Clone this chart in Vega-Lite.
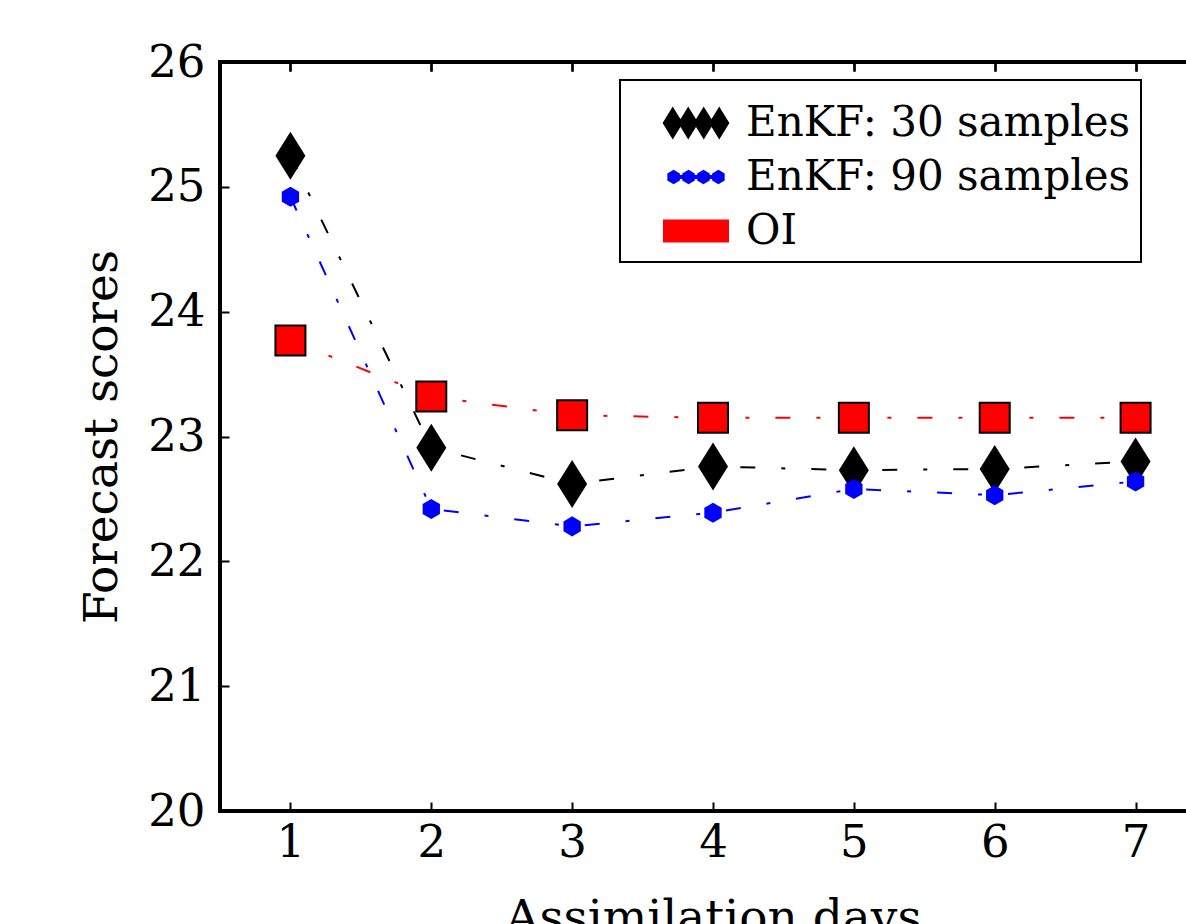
{
  "$schema": "https://vega.github.io/schema/vega-lite/v6.json",
  "width": 986,
  "height": 749,
  "autosize": {"type": "none"},
  "padding": {"left": 220, "top": 62, "right": 0, "bottom": 113},
  "background": "white",
  "data": {
    "values": [
      {"day": 1, "score": 25.25, "series": "EnKF: 30 samples"},
      {"day": 2, "score": 22.91, "series": "EnKF: 30 samples"},
      {"day": 3, "score": 22.62, "series": "EnKF: 30 samples"},
      {"day": 4, "score": 22.76, "series": "EnKF: 30 samples"},
      {"day": 5, "score": 22.73, "series": "EnKF: 30 samples"},
      {"day": 6, "score": 22.74, "series": "EnKF: 30 samples"},
      {"day": 7, "score": 22.80, "series": "EnKF: 30 samples"},
      {"day": 1, "score": 24.92, "series": "EnKF: 90 samples"},
      {"day": 2, "score": 22.42, "series": "EnKF: 90 samples"},
      {"day": 3, "score": 22.28, "series": "EnKF: 90 samples"},
      {"day": 4, "score": 22.39, "series": "EnKF: 90 samples"},
      {"day": 5, "score": 22.58, "series": "EnKF: 90 samples"},
      {"day": 6, "score": 22.53, "series": "EnKF: 90 samples"},
      {"day": 7, "score": 22.64, "series": "EnKF: 90 samples"},
      {"day": 1, "score": 23.77, "series": "OI"},
      {"day": 2, "score": 23.32, "series": "OI"},
      {"day": 3, "score": 23.17, "series": "OI"},
      {"day": 4, "score": 23.15, "series": "OI"},
      {"day": 5, "score": 23.15, "series": "OI"},
      {"day": 6, "score": 23.15, "series": "OI"},
      {"day": 7, "score": 23.15, "series": "OI"}
    ]
  },
  "resolve": {"axis": {"x": "independent"}},
  "layer": [
    {
      "mark": {"type": "line", "strokeWidth": 2, "strokeDash": [15, 26, 4, 26]},
      "encoding": {
        "x": {
          "field": "day", "type": "quantitative",
          "scale": {"domain": [0.5, 7.5], "nice": false, "zero": false},
          "axis": {"orient": "bottom", "values": [1, 2, 3, 4, 5, 6, 7], "format": "d", "title": "Assimilation days", "labelPadding": 18, "titlePadding": 30}
        },
        "y": {
          "field": "score", "type": "quantitative",
          "scale": {"domain": [20, 26], "nice": false, "zero": false},
          "axis": {"values": [20, 21, 22, 23, 24, 25, 26], "format": "d", "title": "Forecast scores", "labelPadding": 24, "titlePadding": 21}
        },
        "color": {
          "field": "series", "type": "nominal",
          "scale": {"domain": ["EnKF: 30 samples", "EnKF: 90 samples", "OI"], "range": ["#000000", "#0000ff", "#ff0000"]},
          "legend": {
            "title": null,
            "orient": "none",
            "legendX": 400,
            "legendY": 18,
            "padding": 10,
            "symbolOffset": 33,
            "symbolSize": 4096,
            "labelOffset": 17,
            "rowPadding": 0,
            "labelFontSize": 42,
            "labelLimit": 1000,
            "labelColor": "#000000",
            "strokeColor": "#000000",
            "fillColor": "#ffffff",
            "cornerRadius": 0,
            "symbolOpacity": 1,
            "encode": {
              "symbols": {
                "update": {
                  "shape": {"signal": "datum.value == 'OI' ? 'M-1,-0.33L-0.5,-0.33L-0.5,0.33L-1,0.33ZM-0.5,-0.33L0,-0.33L0,0.33L-0.5,0.33ZM0,-0.33L0.5,-0.33L0.5,0.33L0,0.33ZM0.5,-0.33L1,-0.33L1,0.33L0.5,0.33Z' : (datum.value == 'EnKF: 30 samples' ? 'M-0.727,-0.453L-0.447,0L-0.727,0.453L-1.007,0ZM-0.242,-0.453L0.038,0L-0.242,0.453L-0.522,0ZM0.242,-0.453L0.522,0L0.242,0.453L-0.038,0ZM0.727,-0.453L1.007,0L0.727,0.453L0.447,0Z' : 'M-0.7,-0.19L-0.535,-0.095L-0.535,0.095L-0.7,0.19L-0.865,0.095L-0.865,-0.095ZM-0.233,-0.19L-0.068,-0.095L-0.068,0.095L-0.233,0.19L-0.398,0.095L-0.398,-0.095ZM0.233,-0.19L0.398,-0.095L0.398,0.095L0.233,0.19L0.068,0.095L0.068,-0.095ZM0.7,-0.19L0.865,-0.095L0.865,0.095L0.7,0.19L0.535,0.095L0.535,-0.095ZM-0.7,-0.03L0.7,-0.03L0.7,0.03L-0.7,0.03Z')"},
                  "fill": {"signal": "datum.value == 'OI' ? '#ff0000' : (datum.value == 'EnKF: 30 samples' ? '#000000' : '#0000ff')"},
                  "stroke": {"signal": "datum.value == 'OI' ? '#000000' : 'transparent'"},
                  "strokeWidth": {"value": 2},
                  "strokeDash": {"value": []},
                  "size": {"value": 4096},
                  "opacity": {"value": 1}
                }
              }
            }
          }
        }
      }
    },
    {
      "transform": [{"filter": "datum.series == 'EnKF: 30 samples'"}],
      "mark": {"type": "point", "filled": true, "size": 2304, "opacity": 1, "shape": "M0,-1L0.625,0L0,1L-0.625,0Z", "strokeWidth": 0},
      "encoding": {
        "x": {
          "field": "day", "type": "quantitative",
          "scale": {"domain": [0.5, 7.5], "nice": false, "zero": false},
          "axis": {"orient": "top", "values": [1, 2, 3, 4, 5, 6, 7], "labels": false, "title": null}
        },
        "y": {"field": "score", "type": "quantitative"},
        "color": {"field": "series", "type": "nominal"}
      }
    },
    {
      "transform": [{"filter": "datum.series == 'EnKF: 90 samples'"}],
      "mark": {"type": "point", "filled": true, "size": 2304, "opacity": 1, "shape": "M0,-0.417L0.361,-0.208L0.361,0.208L0,0.417L-0.361,0.208L-0.361,-0.208Z", "strokeWidth": 0},
      "encoding": {
        "x": {"field": "day", "type": "quantitative", "axis": {"orient": "top", "values": [1, 2, 3, 4, 5, 6, 7], "labels": false, "title": null}},
        "y": {"field": "score", "type": "quantitative"},
        "color": {"field": "series", "type": "nominal"}
      }
    },
    {
      "transform": [{"filter": "datum.series == 'OI'"}],
      "mark": {"type": "point", "filled": true, "size": 2304, "opacity": 1, "shape": "M-0.625,-0.625L0.625,-0.625L0.625,0.625L-0.625,0.625Z", "stroke": "#000000", "strokeWidth": 2},
      "encoding": {
        "x": {"field": "day", "type": "quantitative", "axis": {"orient": "top", "values": [1, 2, 3, 4, 5, 6, 7], "labels": false, "title": null}},
        "y": {"field": "score", "type": "quantitative"},
        "color": {"field": "series", "type": "nominal"}
      }
    }
  ],
  "config": {
    "font": "DejaVu Serif",
    "view": {"stroke": "#000000", "strokeWidth": 4},
    "axis": {
      "domain": false,
      "grid": false,
      "ticks": true,
      "tickColor": "#000000",
      "tickWidth": 2,
      "tickSize": -9,
      "labelFontSize": 45,
      "labelColor": "#000000",
      "labelFont": "DejaVu Serif",
      "titleFont": "DejaVu Serif",
      "titleFontSize": 47,
      "titleFontWeight": "normal",
      "titleColor": "#000000"
    },
    "legend": {"labelFont": "DejaVu Serif", "strokeWidth": 2}
  }
}
